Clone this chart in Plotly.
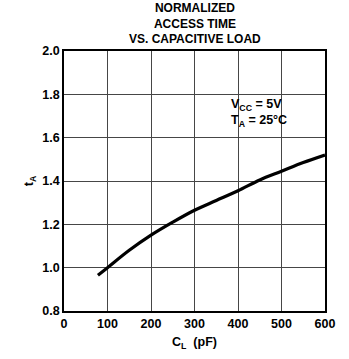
import plotly.graph_objects as go

# Normalized access time vs. capacitive load
load_pf = [78, 100, 150, 200, 250, 300, 350, 400, 450, 500, 550, 600]
access_time = [0.965, 1.0, 1.08, 1.15, 1.21, 1.265, 1.31, 1.355, 1.405, 1.445, 1.485, 1.52]

x_ticks = [0, 100, 200, 300, 400, 500, 600]
x_tick_text = ["0", "100", "200", "300", "400", "500", "600"]
y_ticks = [0.8, 1.0, 1.2, 1.4, 1.6, 1.8, 2.0]
y_tick_text = ["0.8", "1.0", "1.2", "1.4", "1.6", "1.8", "2.0"]

font_family = "Liberation Sans, Arial, sans-serif"
label_font = dict(family=font_family, size=12.5, color="black")


def bold(s):
    return "<b>" + s + "</b>"


fig = go.Figure()
fig.add_trace(go.Scatter(
    x=load_pf, y=access_time, mode="lines",
    line=dict(color="black", width=3.2, shape="spline"),
    showlegend=False, hoverinfo="skip",
))

fig.update_xaxes(
    range=[0, 600], tickmode="array", tickvals=x_ticks,
    ticktext=[bold(t) for t in x_tick_text],
    showgrid=True, gridcolor="rgb(70,70,70)", gridwidth=1.2,
    showline=True, linecolor="black", linewidth=1.6, mirror=True,
    zeroline=False, tickfont=label_font,
    automargin=False,
)
fig.update_yaxes(
    range=[0.8, 2.0], tickmode="array", tickvals=y_ticks,
    ticktext=[bold(t) for t in y_tick_text],
    showgrid=True, gridcolor="rgb(70,70,70)", gridwidth=1.2,
    showline=True, linecolor="black", linewidth=1.6, mirror=True,
    zeroline=False, tickfont=label_font,
    title=dict(text=bold("t<sub>A</sub>"), standoff=6, font=label_font),
    automargin=False,
)

# X-axis title, placed below the tick labels
fig.add_annotation(
    x=0.5, y=0, xref="paper", yref="paper", xanchor="center", yanchor="middle",
    yshift=-32, showarrow=False,
    text=bold("C<sub>L</sub>  (pF)"), font=label_font,
)

# Test conditions
fig.add_annotation(
    x=380, y=1.752, xref="x", yref="y", xanchor="left", yanchor="middle",
    text=bold("V<sub>CC</sub> = 5V"), showarrow=False, font=label_font,
)
fig.add_annotation(
    x=380, y=1.677, xref="x", yref="y", xanchor="left", yanchor="middle",
    text=bold("T<sub>A</sub> = 25°C"), showarrow=False, font=label_font,
)

# Chart heading
fig.add_annotation(
    x=0.5, y=1, xref="paper", yref="paper", xanchor="center", yanchor="bottom",
    yshift=3, showarrow=False, align="center",
    text=bold("NORMALIZED<br>ACCESS TIME<br>VS. CAPACITIVE LOAD"),
    font=dict(family=font_family, size=12, color="black"),
)

fig.update_layout(
    width=349, height=359,
    margin=dict(l=64, r=24, t=51, b=48),
    paper_bgcolor="white", plot_bgcolor="white",
)

fig.write_html("out.html")
